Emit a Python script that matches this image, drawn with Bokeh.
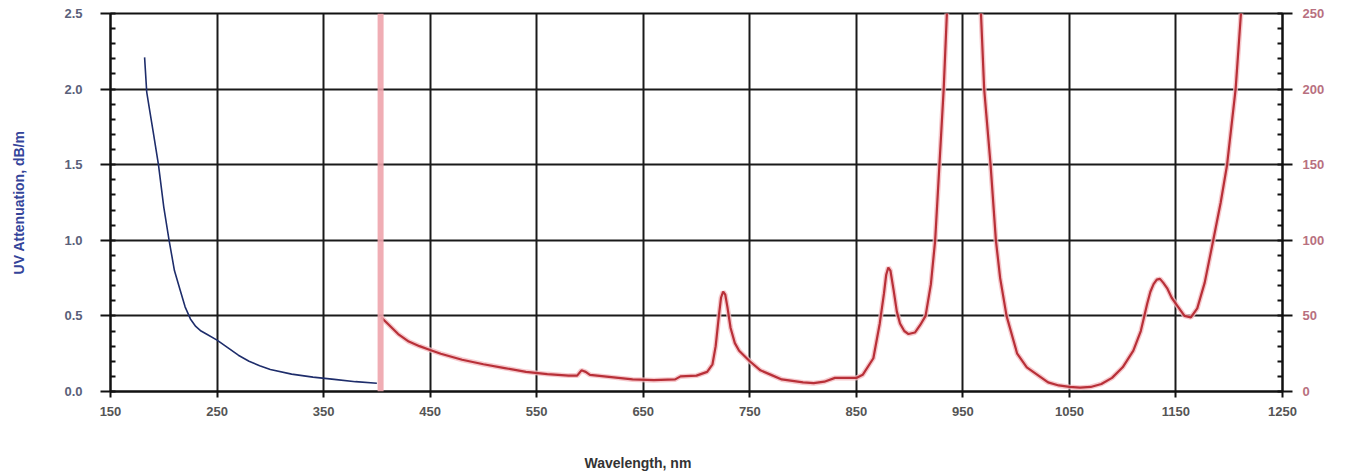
from bokeh.plotting import figure
from bokeh.models import Range1d, LinearAxis, FixedTicker, PrintfTickFormatter, Span, Title
from bokeh.embed import file_html
from bokeh.resources import INLINE

# UV attenuation (left axis, dB/m)
uv_nm = [182, 184, 187, 190, 195, 200, 205, 210, 215, 220, 225, 230, 235, 240, 250,
         260, 270, 280, 290, 300, 320, 340, 360, 380, 400]
uv_att = [2.21, 1.98, 1.85, 1.72, 1.50, 1.22, 1.00, 0.80, 0.68, 0.56, 0.48, 0.43, 0.40,
          0.38, 0.34, 0.29, 0.24, 0.20, 0.17, 0.145, 0.115, 0.095, 0.08, 0.065, 0.055]

# NIR attenuation (right axis, dB/km)
nir_nm = [404, 410, 420, 430, 440, 450, 460, 480, 500, 520, 540, 560, 580, 588, 592, 596,
          600, 620, 640, 660, 680, 685, 700, 710, 715, 718, 721, 723, 725, 727, 729, 732,
          736, 740, 750, 760, 770, 780, 800, 810, 820, 830, 840, 850, 856, 866, 872, 876,
          878, 880, 882, 885, 888, 891, 895, 899, 905, 910, 915, 920, 924, 928, 932, 935,
          940, 950, 960, 965, 967, 970, 976, 981, 985, 991, 1001, 1010, 1023, 1030, 1040,
          1050, 1060, 1070, 1080, 1090, 1100, 1110, 1117, 1123, 1126, 1129, 1132, 1135,
          1138, 1142, 1146, 1151, 1158, 1164, 1170, 1177, 1185, 1192, 1198, 1206, 1211, 1215]
nir_att = [49, 45, 38, 33, 30, 27.5, 25, 21, 18, 15.5, 13, 11.5, 10.5, 10.5, 14, 13,
           11, 9.5, 8, 7.5, 8, 10, 10.5, 13, 18, 30, 50, 62, 66, 64, 56, 42,
           32, 27, 20, 14, 11, 8, 6, 5.5, 6.5, 9, 9, 9, 11, 22, 45, 65,
           77, 82, 80, 67, 53, 45, 40, 38, 39, 44, 50, 71, 100, 150, 200, 250,
           330, 400, 360, 290, 250, 200, 150, 100, 75, 50, 25, 16, 9.5, 6, 4,
           3, 2.5, 3, 5, 9, 16, 27, 40, 58, 66, 71, 74, 74.5, 72,
           68, 62, 57, 50, 49, 55, 72, 100, 125, 150, 200, 250, 290]

x_ticks = [150, 250, 350, 450, 550, 650, 750, 850, 950, 1050, 1150, 1250]
uv_ticks = [0.0, 0.5, 1.0, 1.5, 2.0, 2.5]
nir_ticks = [0, 50, 100, 150, 200, 250]
boundary_nm = 403.5

FONT = "Liberation Sans"

p = figure(width=1363, height=472, output_backend="svg", toolbar_location=None,
           x_range=Range1d(150, 1250), y_range=Range1d(0, 2.5),
           min_border_left=110, min_border_right=81, min_border_top=13, min_border_bottom=81)
p.extra_y_ranges = {"nir": Range1d(0, 250)}
p.background_fill_color = "white"
p.border_fill_color = "white"
p.outline_line_color = "#111111"
p.outline_line_width = 2

# grid
p.xgrid.grid_line_color = "#1a1a1a"
p.xgrid.grid_line_width = 2
p.ygrid.grid_line_color = "#1a1a1a"
p.ygrid.grid_line_width = 2

# x axis
xa = p.xaxis[0]
xa.ticker = FixedTicker(ticks=x_ticks)
xa.formatter = PrintfTickFormatter(format="%d")
xa.axis_line_color = "#111111"
xa.axis_line_width = 2
xa.major_tick_line_color = "#111111"
xa.major_tick_line_width = 2
xa.major_tick_out = 6
xa.major_tick_in = 0
xa.minor_tick_line_color = None
xa.major_label_standoff = 9
xa.major_label_text_font = FONT
xa.major_label_text_font_style = "bold"
xa.major_label_text_font_size = "13px"
xa.major_label_text_color = "#555555"
p.xgrid.ticker = xa.ticker

# invisible spacer axis (pushes the x title down)
spacer = LinearAxis(ticker=FixedTicker(ticks=[700]), axis_line_color=None,
                    major_tick_line_color=None, minor_tick_line_color=None,
                    major_tick_out=33, major_tick_in=0, minor_tick_out=0, minor_tick_in=0,
                    major_label_text_color=None, major_label_text_font_size="1px",
                    major_label_standoff=5)
p.add_layout(spacer, "below")

# left axis
ya = p.yaxis[0]
minor_uv = [round(i * 0.1, 1) for i in range(26)]
ya.ticker = FixedTicker(ticks=uv_ticks, minor_ticks=minor_uv)
ya.formatter = PrintfTickFormatter(format="%.1f")
ya.axis_line_color = "#111111"
ya.axis_line_width = 2
ya.major_tick_line_color = "#111111"
ya.major_tick_line_width = 2
ya.major_tick_out = 10
ya.major_tick_in = 0
ya.minor_tick_line_color = "#111111"
ya.minor_tick_line_width = 2
ya.minor_tick_in = 5
ya.minor_tick_out = 0
ya.major_label_standoff = 18
ya.major_label_text_font = FONT
ya.major_label_text_font_style = "bold"
ya.major_label_text_font_size = "13px"
ya.major_label_text_color = "#5a607a"
ya.axis_label = "UV Attenuation, dB/m"
ya.axis_label_text_font = FONT
ya.axis_label_text_font_style = "bold"
ya.axis_label_text_font_size = "14px"
ya.axis_label_text_color = "#34449a"
ya.axis_label_standoff = 34
p.ygrid.ticker = ya.ticker

# right axis
minor_nir = list(range(0, 251, 10))
ra = LinearAxis(y_range_name="nir", ticker=FixedTicker(ticks=nir_ticks, minor_ticks=minor_nir),
                formatter=PrintfTickFormatter(format="%d"))
ra.axis_line_color = "#111111"
ra.axis_line_width = 2
ra.major_tick_line_color = "#111111"
ra.major_tick_line_width = 2
ra.major_tick_out = 10
ra.major_tick_in = 0
ra.minor_tick_line_color = "#111111"
ra.minor_tick_line_width = 2
ra.minor_tick_in = 5
ra.minor_tick_out = 0
ra.major_label_standoff = 10
ra.major_label_text_font = FONT
ra.major_label_text_font_style = "bold"
ra.major_label_text_font_size = "13px"
ra.major_label_text_color = "#b87080"
p.add_layout(ra, "right")

# x axis title
xt = Title(text="Wavelength, nm", align="left", offset=474, vertical_align="bottom",
           text_font=FONT, text_font_style="bold", text_font_size="14px",
           text_color="#333333", standoff=2)
p.add_layout(xt, "below")

# boundary marker
p.add_layout(Span(location=boundary_nm, dimension="height", line_color="#eea4ac",
                  line_width=6, line_alpha=0.9))

# curves
p.line(uv_nm, uv_att, line_color="#1e2d6b", line_width=1.6)
p.line(nir_nm, nir_att, y_range_name="nir", line_color="#f4bcc0", line_width=5, line_alpha=0.8)
p.line(nir_nm, nir_att, y_range_name="nir", line_color="#b83038", line_width=2.2)

open("out.html", "w").write(file_html(p, INLINE))
